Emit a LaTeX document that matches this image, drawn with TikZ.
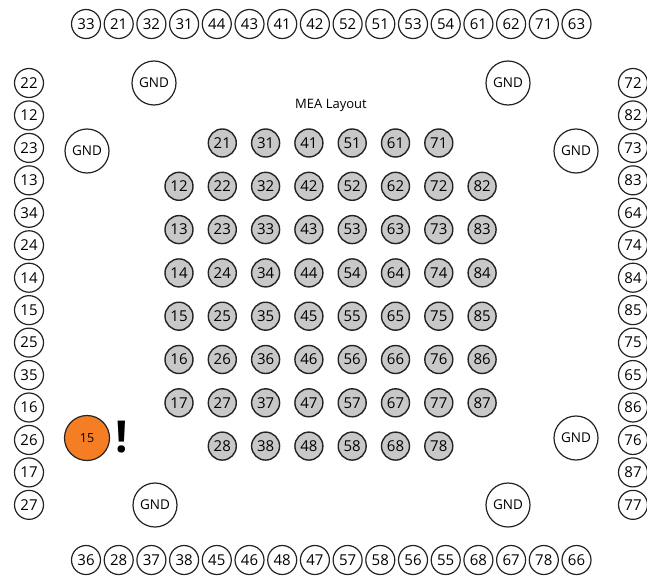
\documentclass[tikz,border=0pt]{standalone}
\usepackage{fontspec}
\setmainfont{Open Sans}
\definecolor{pingray}{RGB}{200,200,200}
\definecolor{pinorange}{RGB}{245,125,35}
\definecolor{edge}{RGB}{35,35,35}
\begin{document}
\begin{tikzpicture}[x=1pt,y=-1pt,
  outerpin/.style={circle,draw=edge,line width=1.2pt,fill=white,minimum size=29pt,inner sep=0pt,font=\fontsize{15}{15}\selectfont},
  innerpin/.style={circle,draw=edge,line width=1.4pt,fill=pingray,minimum size=28pt,inner sep=0pt,font=\fontsize{15}{15}\selectfont},
  gndpin/.style={circle,draw=edge,line width=1.2pt,fill=white,minimum size=44pt,inner sep=0pt,font=\fontsize{13.5}{13.5}\selectfont},
  warnpin/.style={circle,draw=edge,line width=1.2pt,fill=pinorange,minimum size=45pt,inner sep=0pt,font=\fontsize{12.5}{12.5}\selectfont},
  titletext/.style={font=\fontsize{13}{13}\selectfont},
  warntext/.style={font=\fontsize{44}{44}\selectfont\bfseries}]
\useasboundingbox (0,0) rectangle (647,578);
% top row
\foreach \l [count=\i from 0] in {33,21,32,31,44,43,41,42,52,51,53,54,61,62,71,63}
  \node[outerpin] (t\i) at ({86+32.7*\i},24) {\l};
% bottom row
\foreach \l [count=\i from 0] in {36,28,37,38,45,46,48,47,57,58,56,55,68,67,78,66}
  \node[outerpin] (b\i) at ({86+32.7*\i},560) {\l};
% left column
\foreach \l [count=\i from 0] in {22,12,23,13,34,24,14,15,25,35,16,26,17,27}
  \node[outerpin] (l\i) at (29,{83+32.45*\i}) {\l};
% right column
\foreach \l [count=\i from 0] in {72,82,73,83,64,74,84,85,75,65,86,76,87,77}
  \node[outerpin] (r\i) at (633,{83+32.45*\i}) {\l};
% inner grid
\foreach \c in {0,...,7}{
  \foreach \r in {0,...,7}{
    \pgfmathtruncatemacro{\corner}{(\c==0||\c==7)&&(\r==0||\r==7)}
    \ifnum\corner=0
      \pgfmathtruncatemacro{\lab}{10*(\c+1)+\r+1}
      \node[innerpin] (p\lab) at ({179+43.3*\c},{143+43.3*\r}) {\lab};
    \fi
  }
}
% GND pads
\node[gndpin] (g1) at (154,83) {GND};
\node[gndpin] (g2) at (508,83) {GND};
\node[gndpin] (g3) at (87,151) {GND};
\node[gndpin] (g4) at (576,151) {GND};
\node[gndpin] (g5) at (576,438) {GND};
\node[gndpin] (g6) at (155,505) {GND};
\node[gndpin] (g7) at (508,505) {GND};
% warning pin
\node[warnpin] (w15) at (87,438) {15};
\node[warntext] (bang) at (122,437) {!};
% title
\node[titletext] (title) at (331,105) {MEA Layout};
\end{tikzpicture}
\end{document}
